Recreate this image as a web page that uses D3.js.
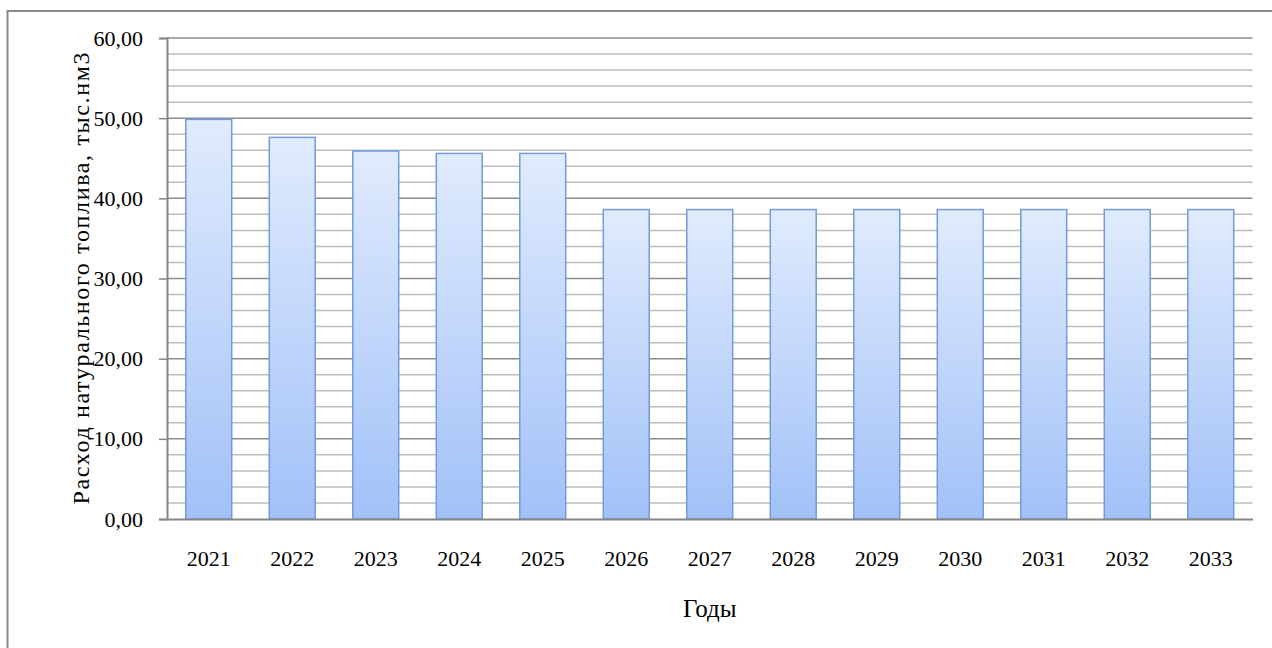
<!DOCTYPE html>
<html>
<head>
<meta charset="utf-8">
<script src="https://cdn.jsdelivr.net/npm/d3@7"></script>
<style>
  body { margin: 0; background: #fff; }
  svg text {
    font-family: "Liberation Serif", "Times New Roman", Tinos, "DejaVu Serif", serif;
    fill: #000;
  }
</style>
</head>
<body>
<script>
// Chart data
const years = ["2021", "2022", "2023", "2024", "2025", "2026", "2027",
               "2028", "2029", "2030", "2031", "2032", "2033"];
const values = [49.85, 47.6, 45.9, 45.6, 45.6, 38.6, 38.6,
                38.6, 38.6, 38.6, 38.6, 38.6, 38.6];
const majorTicks = [0, 10, 20, 30, 40, 50, 60];
const minorTicks = d3.range(0, 60.01, 2);

const width = 1272, height = 648;
const margin = { top: 38, right: 19.5, bottom: 129, left: 167 };
const serif = '"Liberation Serif", "Times New Roman", Tinos, "DejaVu Serif", serif';

const svg = d3.select("body").append("svg")
  .attr("width", width)
  .attr("height", height);

// Outer chart frame
svg.append("rect")
  .attr("x", 7.5).attr("y", 11)
  .attr("width", 1290).attr("height", 660)
  .attr("fill", "none")
  .attr("stroke", "#8a8a8a")
  .attr("stroke-width", 2);

const defs = svg.append("defs");
const grad = defs.append("linearGradient")
  .attr("id", "barGrad")
  .attr("x1", 0).attr("y1", 0).attr("x2", 0).attr("y2", 1);
grad.append("stop").attr("offset", "0%").attr("stop-color", "#e0ebfd");
grad.append("stop").attr("offset", "100%").attr("stop-color", "#a2c1f8");

const x = d3.scaleBand()
  .domain(years)
  .range([margin.left, width - margin.right])
  .paddingInner(0.45)
  .paddingOuter(0.225);

const y = d3.scaleLinear()
  .domain([0, 60])
  .range([height - margin.bottom, margin.top]);

// Minor gridlines
svg.append("g")
  .selectAll("line")
  .data(minorTicks.filter(d => d % 10 !== 0))
  .enter()
  .append("line")
  .attr("x1", margin.left).attr("x2", width - margin.right)
  .attr("y1", d => y(d)).attr("y2", d => y(d))
  .attr("stroke", "#bdbdbd")
  .attr("stroke-width", 1.5);

// Major gridlines
svg.append("g")
  .selectAll("line")
  .data(majorTicks.filter(d => d > 0))
  .enter()
  .append("line")
  .attr("x1", margin.left).attr("x2", width - margin.right)
  .attr("y1", d => y(d)).attr("y2", d => y(d))
  .attr("stroke", "#8c8c8c")
  .attr("stroke-width", 1.5);

// Bars
svg.append("g")
  .selectAll("rect")
  .data(years)
  .enter()
  .append("rect")
  .attr("x", d => x(d))
  .attr("y", (d, i) => y(values[i]))
  .attr("width", x.bandwidth())
  .attr("height", (d, i) => y(0) - y(values[i]))
  .attr("fill", "url(#barGrad)")
  .attr("stroke", "#729bd9")
  .attr("stroke-width", 1.5);

// Y axis
const yAxis = svg.append("g")
  .attr("transform", `translate(${margin.left},0)`)
  .call(d3.axisLeft(y)
    .tickValues(majorTicks)
    .tickSize(8)
    .tickPadding(16)
    .tickFormat(d => d3.format(".2f")(d).replace(".", ",")));
yAxis.attr("font-family", serif);
yAxis.select(".domain").attr("stroke", "#868686").attr("stroke-width", 2);
yAxis.selectAll(".tick line").attr("stroke", "#868686").attr("stroke-width", 1.5);
yAxis.selectAll(".tick text")
  .attr("font-size", "22px")
  .style("font-family", serif)
  .attr("fill", "#000");

// X axis
const xAxis = svg.append("g")
  .attr("transform", `translate(0,${y(0)})`)
  .call(d3.axisBottom(x).tickSize(0).tickPadding(31));
xAxis.attr("font-family", serif);
xAxis.select(".domain").attr("stroke", "#868686").attr("stroke-width", 2);
xAxis.selectAll(".tick text")
  .attr("font-size", "22px")
  .style("font-family", serif)
  .attr("fill", "#000");

// Axis titles
svg.append("text")
  .text("Годы")
  .attr("x", (margin.left + width - margin.right) / 2)
  .attr("y", 617)
  .attr("font-size", "25px")
  .style("font-family", serif)
  .style("text-anchor", "middle");

svg.append("text")
  .text("Расход натурального топлива, тыс.нм3")
  .attr("transform", "rotate(-90)")
  .attr("x", -(margin.top + height - margin.bottom) / 2)
  .attr("y", 89)
  .attr("font-size", "24px")
  .attr("textLength", 452)
  .attr("lengthAdjust", "spacing")
  .style("font-family", serif)
  .style("text-anchor", "middle");
</script>
</body>
</html>
